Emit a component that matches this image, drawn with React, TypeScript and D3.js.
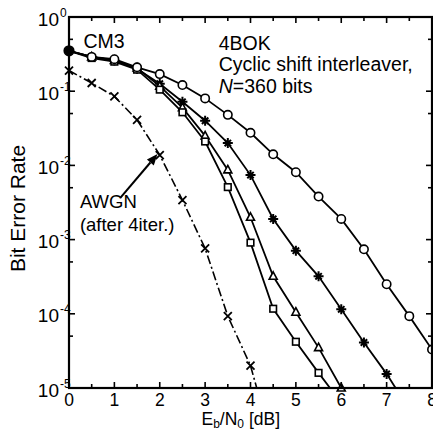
import React from "react";
import * as d3 from "d3";

const ebn0 = [0, 0.5, 1, 1.5, 2, 2.5, 3, 3.5, 4, 4.5, 5, 5.5, 6, 6.5, 7, 7.5, 8];
const berCircle = [0.35, 0.29, 0.27, 0.21, 0.17, 0.121, 0.08, 0.048, 0.0275, 0.0141, 0.0081, 0.0038, 0.0019, 7.4e-4, 2.5e-4, 9.3e-5, 3.3e-5];
const berStar = [0.35, 0.29, 0.26, 0.2, 0.126, 0.072, 0.04, 0.02, 0.0074, 0.0019, 7.1e-4, 3.2e-4, 1.15e-4, 4.1e-5, 1.55e-5, 5.1e-6];
const berTriangle = [0.35, 0.29, 0.26, 0.205, 0.117, 0.06, 0.025, 0.0087, 0.002, 3.2e-4, 1.05e-4, 3.5e-5, 1.0e-5];
const berSquare = [0.35, 0.28, 0.25, 0.195, 0.105, 0.052, 0.021, 0.0051, 9.1e-4, 1.17e-4, 4.2e-5, 1.6e-5, 6.3e-6];
const berAwgn = [0.19, 0.129, 0.085, 0.041, 0.0138, 0.0034, 7.6e-4, 9.3e-5, 2.0e-5, 1.6e-6];

const xTicks = [0, 1, 2, 3, 4, 5, 6, 7, 8];
const yExponents = [0, -1, -2, -3, -4, -5];

const W = 433;
const H = 430;
const M = { left: 69, top: 17, right: 1, bottom: 42 };
const FONT = "'Liberation Sans', Arial, Helvetica, sans-serif";

export default function App() {
  const x = d3.scaleLinear().domain([0, 8]).range([M.left, W - M.right]);
  const y = d3.scaleLog().domain([1e-5, 1]).range([H - M.bottom, M.top]);
  const x0 = M.left, x1 = W - M.right, y0 = H - M.bottom, y1 = M.top;

  const mk = (vals: number[]) => vals.map((v, i) => [ebn0[i], v] as [number, number]);
  const line = d3.line<[number, number]>().x((d) => x(d[0])).y((d) => y(d[1]));
  const visible = (d: [number, number]) => d[1] >= 0.95e-5 && d[0] > 0;

  const circ = mk(berCircle), star = mk(berStar), tri = mk(berTriangle), sq = mk(berSquare), awgn = mk(berAwgn);

  const halfTicks = d3.range(0, 8.01, 0.5);
  const minorY = yExponents.slice(0, -1).map((e) => 5 * Math.pow(10, e - 1));

  const sw = 1.8;

  const arrow = (() => {
    const sx = x(1.14), sy = y(0.0037), tx = x(1.95), ty = y(0.0142);
    const ang = Math.atan2(ty - sy, tx - sx);
    const L = 11, Wd = 4.5;
    const bx = tx - L * Math.cos(ang), by = ty - L * Math.sin(ang);
    const px = -Math.sin(ang) * Wd, py = Math.cos(ang) * Wd;
    return (
      <g>
        <line x1={sx} y1={sy} x2={bx} y2={by} stroke="#000" strokeWidth={2} />
        <path d={`M${tx},${ty}L${bx + px},${by + py}L${bx - px},${by - py}Z`} fill="#000" />
      </g>
    );
  })();

  return (
    <svg width={W} height={H} style={{ position: "absolute", left: 0, top: 0, background: "#fff" }} fontFamily={FONT}>
      <defs>
        <clipPath id="plot">
          <rect x={x0} y={y1} width={x1 - x0} height={y0 - y1} />
        </clipPath>
      </defs>
      <rect x={0} y={0} width={W} height={H} fill="#fff" />
      {/* curves */}
      <g clipPath="url(#plot)" fill="none" stroke="#000" strokeWidth={sw}>
        <path d={line(circ) || ""} />
        <path d={line(star) || ""} />
        <path d={line(tri) || ""} />
        <path d={line(sq) || ""} />
        <path d={line(awgn) || ""} strokeDasharray="9 3 2 3" strokeWidth={1.6} />
      </g>
      {/* markers */}
      <g stroke="#000" strokeWidth={1.6}>
        {star.filter(visible).map((d, i) => {
          const cx = x(d[0]), cy = y(d[1]);
          return (
            <path key={"st" + i} strokeWidth={2}
              d={`M${cx - 5},${cy}L${cx + 5},${cy}M${cx},${cy - 5}L${cx},${cy + 5}M${cx - 3.2},${cy - 3.2}L${cx + 3.2},${cy + 3.2}M${cx - 3.2},${cy + 3.2}L${cx + 3.2},${cy - 3.2}`} />
          );
        })}
        {tri.filter(visible).map((d, i) => {
          const cx = x(d[0]), cy = y(d[1]);
          return <path key={"t" + i} d={`M${cx},${cy - 4.5}L${cx + 4},${cy + 3}L${cx - 4},${cy + 3}Z`} fill="#fff" />;
        })}
        {sq.filter(visible).map((d, i) => (
          <rect key={"s" + i} x={x(d[0]) - 3.3} y={y(d[1]) - 3.3} width={6.6} height={6.6} fill="#fff" />
        ))}
        {circ.filter(visible).map((d, i) => (
          <circle key={"c" + i} cx={x(d[0])} cy={y(d[1])} r={4.2} fill="#fff" />
        ))}
        {awgn.filter((d) => d[1] >= 0.95e-5).map((d, i) => {
          const cx = x(d[0]), cy = y(d[1]);
          return (
            <path key={"a" + i} strokeWidth={1.8}
              d={`M${cx - 4},${cy - 4}L${cx + 4},${cy + 4}M${cx - 4},${cy + 4}L${cx + 4},${cy - 4}`} />
          );
        })}
        <circle cx={x(0)} cy={y(berCircle[0])} r={4.8} fill="#000" />
      </g>
      {/* frame */}
      <rect x={x0} y={y1} width={x1 - x0} height={y0 - y1} fill="none" stroke="#000" strokeWidth={2.2} />
      {/* ticks */}
      <g stroke="#000" strokeWidth={1.6}>
        {halfTicks.map((t) => {
          const major = Math.abs(t - Math.round(t)) < 1e-6;
          const len = major ? 6 : 4;
          return (
            <g key={"xt" + t}>
              <line x1={x(t)} x2={x(t)} y1={y0} y2={y0 - len} />
              <line x1={x(t)} x2={x(t)} y1={y1} y2={y1 + len} />
            </g>
          );
        })}
        {yExponents.map((e) => (
          <g key={"yt" + e}>
            <line x1={x0} x2={x0 + 6} y1={y(Math.pow(10, e))} y2={y(Math.pow(10, e))} />
            <line x1={x1} x2={x1 - 6} y1={y(Math.pow(10, e))} y2={y(Math.pow(10, e))} />
          </g>
        ))}
        {minorY.map((v) => (
          <g key={"ym" + v}>
            <line x1={x0} x2={x0 + 4} y1={y(v)} y2={y(v)} />
            <line x1={x1} x2={x1 - 4} y1={y(v)} y2={y(v)} />
          </g>
        ))}
      </g>
      {/* x tick labels */}
      <g fontSize={17.5} textAnchor="middle" fill="#000">
        {xTicks.map((t) => (
          <text key={"xl" + t} x={x(t)} y={y0 + 18}>{t}</text>
        ))}
      </g>
      {/* y tick labels */}
      <g fill="#000">
        {yExponents.map((e) => (
          <g key={"yl" + e}>
            <text x={x0 - 10} y={y(Math.pow(10, e)) + 8.5} fontSize={19} textAnchor="end">10</text>
            <text x={x0 - 9} y={y(Math.pow(10, e)) - 0.5} fontSize={12} textAnchor="start">{e === 0 ? "0" : "-" + Math.abs(e)}</text>
          </g>
        ))}
      </g>
      {/* axis titles */}
      <text transform={`translate(25,${(y0 + y1) / 2 + 6}) rotate(-90)`} textAnchor="middle" fontSize={21} fill="#000">Bit Error Rate</text>
      <text x={x(2.92)} y={y0 + 37} fontSize={17.5} fill="#000">
        E<tspan fontSize={12} dy={2.5}>b</tspan><tspan dy={-2.5}>/N</tspan><tspan fontSize={12} dy={2.5}>0</tspan><tspan dy={-2.5}> [dB]</tspan>
      </text>
      {/* annotations */}
      <g fill="#000">
        <text x={x(0.32)} y={y(0.38)} fontSize={19.5}>CM3</text>
        <text x={x(3.3)} y={y(0.36)} fontSize={19.5}>4BOK</text>
        <text x={x(3.3)} y={y(0.187)} fontSize={19.5}>Cyclic shift interleaver,</text>
        <text x={x(3.3)} y={y(0.0946)} fontSize={19.5}><tspan fontStyle="italic">N</tspan>=360 bits</text>
        <text x={x(0.24)} y={y(0.00267)} fontSize={18.5}>AWGN</text>
        <text x={x(0.24)} y={y(0.0013)} fontSize={18.5}>(after 4iter.)</text>
      </g>
      {arrow}
    </svg>
  );
}
